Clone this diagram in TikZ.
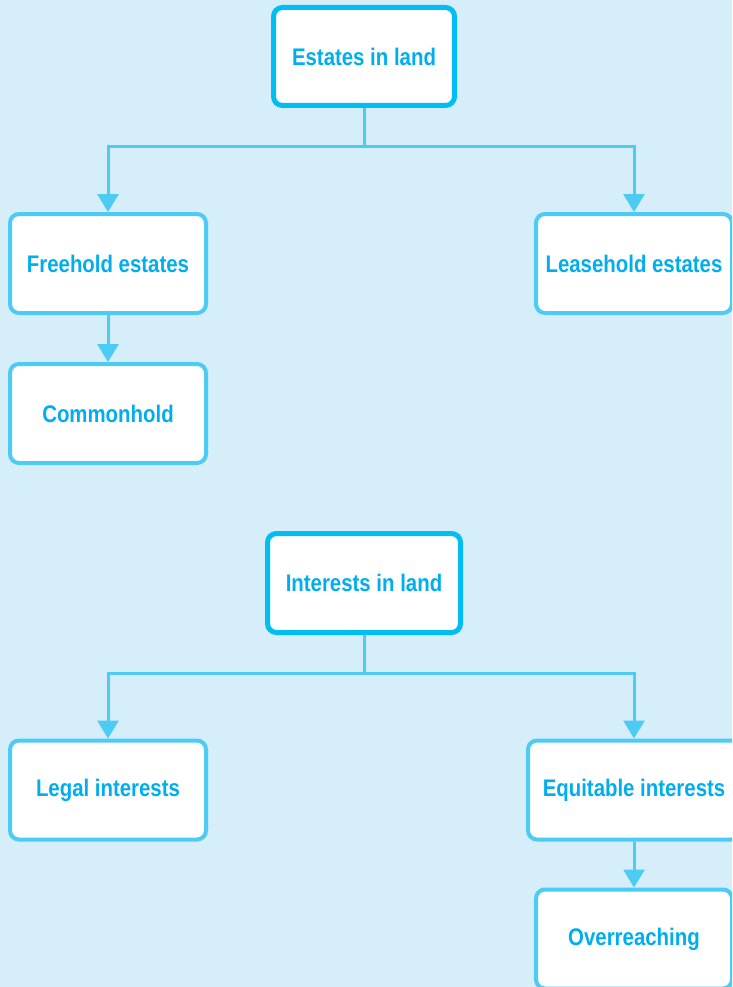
\documentclass[tikz,border=0pt]{standalone}
\usepackage{fontspec}
\setmainfont{Liberation Sans}[FakeStretch=0.85]
\usetikzlibrary{arrows.meta}

\definecolor{bgblue}{HTML}{D6EDFA}
\definecolor{lineblue}{HTML}{4CCBF4}
\definecolor{headblue}{HTML}{00BEF2}
\definecolor{textblue}{HTML}{00AEEF}

\begin{document}
\begin{tikzpicture}[x = 1pt, y = -1pt, > = {Triangle[width = 21pt, length = 18pt]},
	box/.style = {draw = lineblue, line width = 4pt, fill = white, rounded corners = 9pt,
		minimum width = 196pt, minimum height = 99pt, inner sep = 0pt,
		text = textblue, font = \bfseries\fontsize{24}{28}\selectfont},
	headbox/.style = {box, draw = headblue, line width = 5pt},
	link/.style = {draw = lineblue, line width = 3pt}]

	% Background

	\clip (0, 0) rectangle (732, 987);
	\fill [bgblue] (0, 0) rectangle (732, 987);

	% Estates

	\node [headbox, minimum width = 181pt, minimum height = 98pt] (estates) at (364, 56.5) {Estates in land};
	\node [box] (freehold) at (108, 263.5) {Freehold estates};
	\node [box] (leasehold) at (634, 263.5) {Leasehold estates};
	\node [box] (commonhold) at (108, 413.5) {Commonhold};
	\coordinate (estfork) at (364, 147);

	\draw [link] (estates) -- (estfork);
	\begin{scope}[->]
		\draw [link] (estfork) -| (freehold);
		\draw [link] (estfork) -| (leasehold);
		\draw [link] (freehold) -- (commonhold);
	\end{scope}

	% Interests

	\node [headbox, minimum width = 193pt] (interests) at (364, 583) {Interests in land};
	\node [box] (legal) at (108, 790) {Legal interests};
	\node [box, minimum width = 212pt] (equitable) at (634, 790) {Equitable interests};
	\node [box] (overreach) at (634, 939) {Overreaching};
	\coordinate (intfork) at (364, 673);

	\draw [link] (interests) -- (intfork);
	\begin{scope}[->]
		\draw [link] (intfork) -| (legal);
		\draw [link] (intfork) -| (equitable);
		\draw [link] (equitable) -- (overreach);
	\end{scope}

\end{tikzpicture}
\end{document}
